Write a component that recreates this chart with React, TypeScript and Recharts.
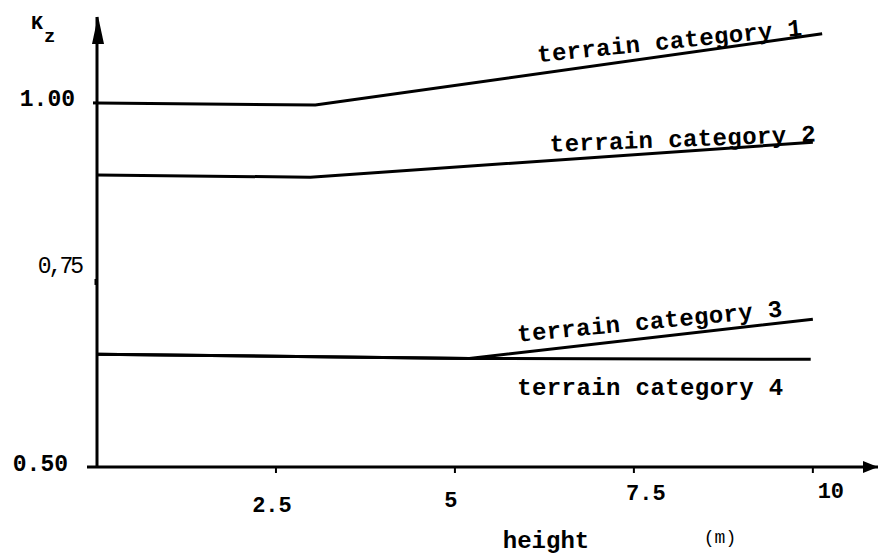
import React from "react";
import { LineChart, Line, XAxis, YAxis, ReferenceDot } from "recharts";

// ---- data ----
const cat1H = [0, 3.05, 10.13];
const cat1K = [1.0, 0.997, 1.095];
const cat2H = [0, 2.98, 10.0];
const cat2K = [0.901, 0.898, 0.946];
const cat3H = [0, 5.2, 10.0];
const cat3K = [0.655, 0.649, 0.703];
const cat4H = [0, 5.2, 9.97];
const cat4K = [0.655, 0.649, 0.648];

const xTicks = [2.5, 5, 7.5, 10];
const xTickLabels = ["2.5", "5", "7.5", "10"];
const yTicks = [0.5, 0.75, 1.0];
const yTickLabels = ["0.50", "0,75", "1.00"];

const seriesNames = [
  "terrain category 1",
  "terrain category 2",
  "terrain category 3",
  "terrain category 4",
];
// where each curve's label sits (data coords) and its slope
const labelH = [6.16, 6.33, 5.88, 5.87];
const labelK = [1.056, 0.933, 0.672, 0.599];
const labelAngle = [-5.8, -2.2, -5.5, 0];

const xTitle = "height";
const xUnit = "(m)";

const toRows = (h: number[], k: number[]) => h.map((v, i) => ({ h: v, k: k[i] }));
const series = [
  toRows(cat1H, cat1K),
  toRows(cat2H, cat2K),
  toRows(cat3H, cat3K),
  toRows(cat4H, cat4K),
];

const FONT = "'Liberation Mono', 'DejaVu Sans Mono', monospace";
const X_MAX = 10.91;
const Y_MAX = 1.118;

// per-tick label nudges (styling only)
const xTickOffset: Record<string, [number, number]> = {
  "2.5": [-4, 45],
  "5": [-4, 40],
  "7.5": [12, 33],
  "10": [18, 31],
};
const yTickOffset: Record<string, [number, number]> = {
  "0.5": [-29, 4],
  "0.75": [-16, -12],
  "1": [-22, 3],
};

const XTick = (props: any) => {
  const { x, y, payload } = props;
  const idx = xTicks.indexOf(payload.value);
  const [dx, dy] = xTickOffset[String(payload.value)] || [0, 30];
  return (
    <g>
      <line x1={x} y1={y} x2={x} y2={y + 6} stroke="#000" strokeWidth={2} />
      <text
        x={x + dx}
        y={y + dy}
        textAnchor="middle"
        fontFamily={FONT}
        fontWeight={700}
        fontSize={22}
        fill="#000"
      >
        {xTickLabels[idx]}
      </text>
    </g>
  );
};

const YTick = (props: any) => {
  const { x, y, payload } = props;
  const idx = yTicks.indexOf(payload.value);
  const [dx, dy] = yTickOffset[String(payload.value)] || [-20, 5];
  const isComma = payload.value === 0.75;
  return (
    <g>
      {payload.value === 0.5 ? (
        <line x1={x - 10} y1={y} x2={x} y2={y} stroke="#000" strokeWidth={3} />
      ) : payload.value === 0.75 ? (
        <line x1={x - 1} y1={y - 6} x2={x - 1} y2={y} stroke="#000" strokeWidth={3} />
      ) : (
        <line x1={x - 4} y1={y} x2={x} y2={y} stroke="#000" strokeWidth={3} />
      )}
      <text
        x={x + dx}
        y={y + dy}
        textAnchor="end"
        fontFamily={FONT}
        fontWeight={isComma ? 400 : 700}
        fontSize={23}
        letterSpacing={isComma ? -3 : 0}
        fill="#000"
      >
        {yTickLabels[idx]}
      </text>
    </g>
  );
};

const YLabel = (props: any) => {
  const vb = props.viewBox || { x: 0, y: 17 };
  return (
    <g>
      <text x={vb.x + 31} y={vb.y + 12} fontFamily={FONT} fontWeight={700} fontSize={20} fill="#000">
        K
      </text>
      <text x={vb.x + 44} y={vb.y + 25} fontFamily={FONT} fontWeight={700} fontSize={19} fill="#000">
        z
      </text>
    </g>
  );
};

const XLabel = (props: any) => {
  const vb = props.viewBox || { x: 97, y: 467 };
  return (
    <g>
      <text
        x={vb.x + 449}
        y={vb.y + 81}
        textAnchor="middle"
        fontFamily={FONT}
        fontWeight={700}
        fontSize={24}
        fill="#000"
      >
        {xTitle}
      </text>
      <text
        x={vb.x + 623}
        y={vb.y + 76}
        textAnchor="middle"
        fontFamily={FONT}
        fontWeight={400}
        fontSize={18}
        fill="#000"
      >
        {xUnit}
      </text>
    </g>
  );
};

const UpArrow = (props: any) => {
  const { cx, cy } = props;
  return (
    <polygon
      points={`${cx + 1},${cy - 1} ${cx - 5},${cy + 27} ${cx + 7},${cy + 27}`}
      fill="#000"
    />
  );
};

const RightArrow = (props: any) => {
  const { cx, cy } = props;
  return (
    <polygon points={`${cx},${cy} ${cx - 15},${cy - 6} ${cx - 15},${cy + 6}`} fill="#000" />
  );
};

const makeLabelShape = (i: number) => (props: any) => {
  const { cx, cy } = props;
  return (
    <text
      x={cx}
      y={cy}
      transform={`rotate(${labelAngle[i]} ${cx} ${cy})`}
      fontFamily={FONT}
      fontWeight={700}
      fontSize={24}
      letterSpacing={0.4}
      fill="#000"
    >
      {seriesNames[i]}
    </text>
  );
};

export default function App() {
  return (
    <div style={{ position: "absolute", left: 0, top: 0, width: 878, height: 555, background: "#fff" }}>
      <LineChart width={878} height={555} margin={{ top: 17, right: 0, bottom: 0, left: 0 }}>
        <XAxis
          dataKey="h"
          type="number"
          domain={[0, X_MAX]}
          ticks={xTicks}
          allowDataOverflow
          height={88}
          axisLine={{ stroke: "#000", strokeWidth: 3 }}
          tickLine={false}
          tickSize={0}
          tickMargin={0}
          tick={<XTick />}
          label={<XLabel />}
        />
        <YAxis
          dataKey="k"
          type="number"
          domain={[0.5, Y_MAX]}
          ticks={yTicks}
          allowDataOverflow
          width={97}
          axisLine={{ stroke: "#000", strokeWidth: 3 }}
          tickLine={false}
          tickSize={0}
          tickMargin={0}
          tick={<YTick />}
          label={<YLabel />}
        />
        {series.map((rows, i) => (
          <Line
            key={seriesNames[i]}
            data={rows}
            dataKey="k"
            type="linear"
            stroke="#000"
            strokeWidth={3}
            dot={false}
            activeDot={false}
            isAnimationActive={false}
          />
        ))}
        <ReferenceDot x={0} y={Y_MAX} r={0} ifOverflow="visible" shape={<UpArrow />} />
        <ReferenceDot x={X_MAX} y={0.5} r={0} ifOverflow="visible" shape={<RightArrow />} />
        {seriesNames.map((n, i) => (
          <ReferenceDot
            key={"lbl" + n}
            x={labelH[i]}
            y={labelK[i]}
            r={0}
            ifOverflow="visible"
            shape={makeLabelShape(i)}
          />
        ))}
      </LineChart>
    </div>
  );
}
